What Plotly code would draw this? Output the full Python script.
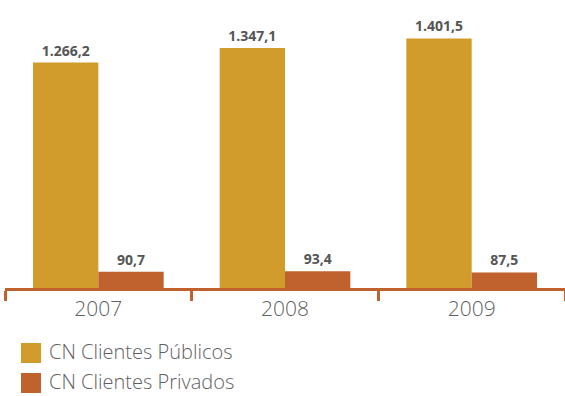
import plotly.graph_objects as go

years = ["2007", "2008", "2009"]
publicos = [1266.2, 1347.1, 1401.5]
privados = [90.7, 93.4, 87.5]
series_names = ["CN Clientes Públicos", "CN Clientes Privados"]
colors = ["#D29C2D", "#C0622D"]

L = 5
W = 565 - L
fig = go.Figure()
for name, vals, col in zip(series_names, [publicos, privados], colors):
    fig.add_trace(go.Bar(
        x=years, y=vals, name=name, marker=dict(color=col, line=dict(width=0)),
        texttemplate="%{y:,.1f}", textposition="outside", cliponaxis=False,
        textfont=dict(family="Open Sans", size=14, color="#555555", weight=700),
        showlegend=False,
    ))

# manual legend (large square swatches)
for i, (name, col) in enumerate(zip(series_names, colors)):
    y0 = 343 + i * 30
    fig.add_shape(type="rect", xref="paper", yref="paper",
                  x0=(21 - L) / W, x1=(41 - L) / W,
                  y0=(288 - (y0 + 20)) / 268, y1=(288 - y0) / 268,
                  fillcolor=col, line=dict(width=0))
    fig.add_annotation(xref="paper", yref="paper", x=(47 - L) / W, y=(288 - (y0 + 8)) / 268,
                       text=name, showarrow=False, xanchor="left", yanchor="middle",
                       font=dict(family="Open Sans", size=20, color="#5f5f5f", weight=300))

fig.update_layout(
    width=565, height=396,
    margin=dict(l=L, r=0, t=20, b=108),
    barmode="group", bargap=0.30, bargroupgap=0,
    separators=",.",
    paper_bgcolor="white", plot_bgcolor="white",
    xaxis=dict(showline=True, linecolor="#C0622D", linewidth=3,
               ticks="outside", tickson="boundaries", ticklen=10, tickwidth=3,
               tickcolor="#C0622D",
               tickfont=dict(family="Open Sans", size=21, color="#5f5f5f", weight=300),
               showgrid=False),
    yaxis=dict(range=[0, 1505], visible=False, showgrid=False, zeroline=False),
)

fig.write_html("out.html")
